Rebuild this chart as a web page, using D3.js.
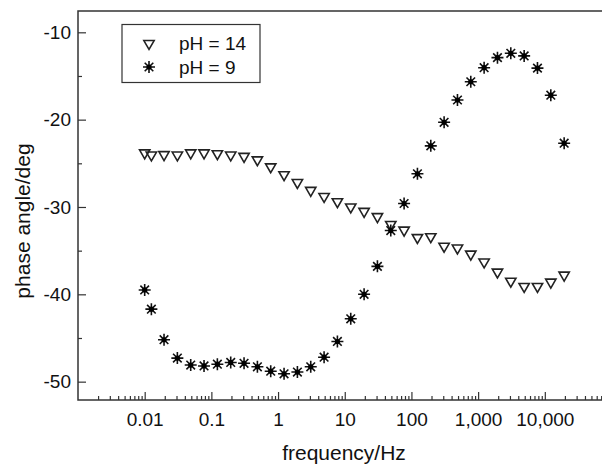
<!DOCTYPE html>
<html lang="en">
<head>
    <meta charset="UTF-8">
    <script type="text/javascript" src="https://d3js.org/d3.v7.min.js"></script>
    <title>Phase angle</title>
    <style>
        body { margin: 0; background: #fff; }
        svg { display: block; overflow: hidden; }
        text { font-family: "Liberation Sans", Arial, sans-serif; fill: #111; }
    </style>
</head>
<body>
    <svg id="plot"></svg>
    <script>
        const width = 602;
        const height = 466;

        // frequencies (Hz)
        const freq = [0.01, 0.0126, 0.0195, 0.0309, 0.049, 0.0776, 0.123, 0.195, 0.309, 0.49, 0.776,
            1.23, 1.95, 3.09, 4.9, 7.76, 12.3, 19.5, 30.9, 49, 77.6, 123, 195, 309, 490, 776,
            1230, 1950, 3090, 4900, 7760, 12300, 19500];
        const ph14 = [-23.8, -24.05, -24.0, -24.05, -23.8, -23.8, -23.9, -24.05, -24.2, -24.6, -25.4,
            -26.3, -27.2, -28.1, -28.8, -29.4, -30.0, -30.5, -31.1, -32.0, -32.65, -33.5, -33.4, -34.5,
            -34.7, -35.4, -36.3, -37.45, -38.5, -39.1, -39.1, -38.6, -37.8];
        const ph9 = [-39.5, -41.7, -45.2, -47.3, -48.1, -48.2, -48.0, -47.8, -47.9, -48.3, -48.8,
            -49.1, -48.9, -48.3, -47.2, -45.4, -42.8, -40.0, -36.8, -32.7, -29.6, -26.2, -23.0, -20.3,
            -17.75, -15.66, -14.05, -12.9, -12.4, -12.7, -14.1, -17.2, -22.7];
        const xTicks = [0.01, 0.1, 1, 10, 100, 1000, 10000];
        const yTicks = [-50, -40, -30, -20, -10];
        const legendLabels = ["pH = 14", "pH = 9"];

        const svg = d3.select("#plot").attr("width", width).attr("height", height);

        const x = d3.scaleLog().domain([0.001, 100000]).range([78, 611.5]);
        const y = d3.scaleLinear().domain([-52.1, -7.56]).range([400, 11]);

        // minor ticks
        const minorX = [];
        for (let e = -3; e < 5; e++) for (let m = 2; m <= 9; m++) minorX.push(m * Math.pow(10, e));
        const minorY = [-45, -35, -25, -15];

        // frame
        svg.append("rect")
            .attr("x", x.range()[0]).attr("y", y.range()[1])
            .attr("width", x.range()[1] - x.range()[0]).attr("height", y.range()[0] - y.range()[1])
            .attr("fill", "none").attr("stroke", "#333").attr("stroke-width", 1.5);

        const xAxis = svg.append("g").attr("transform", `translate(0,${y.range()[0]})`)
            .call(d3.axisBottom(x).tickValues(xTicks).tickFormat(d3.format(",")).tickSizeInner(-8).tickSizeOuter(0).tickPadding(13));
        const xMinor = svg.append("g").attr("transform", `translate(0,${y.range()[0]})`)
            .call(d3.axisBottom(x).tickValues(minorX).tickFormat("").tickSizeInner(-4).tickSizeOuter(0));
        const yAxis = svg.append("g").attr("transform", `translate(${x.range()[0]},0)`)
            .call(d3.axisLeft(y).tickValues(yTicks).tickFormat(d => String(d)).tickSizeInner(-8).tickSizeOuter(0).tickPadding(7));
        const yMinor = svg.append("g").attr("transform", `translate(${x.range()[0]},0)`)
            .call(d3.axisLeft(y).tickValues(minorY).tickFormat("").tickSizeInner(-4).tickSizeOuter(0));

        [xAxis, xMinor, yAxis, yMinor].forEach(g => {
            g.select(".domain").remove();
            g.selectAll("line").attr("stroke", "#333").attr("stroke-width", 1.2);
            g.selectAll("text").attr("font-size", 19).attr("font-family", "Liberation Sans, Arial, sans-serif").attr("fill", "#111");
        });

        // axis titles
        svg.append("text").attr("x", 344).attr("y", 460).attr("text-anchor", "middle")
            .attr("font-size", 21).text("frequency/Hz");
        svg.append("text").attr("transform", "translate(30,221) rotate(-90)").attr("text-anchor", "middle")
            .attr("font-size", 21).text("phase angle/deg");

        // markers
        const tri = d3.symbol(d3.symbolTriangle, 46);
        const star = "M-6,0H6M0,-6V6M-4.3,-4.3L4.3,4.3M-4.3,4.3L4.3,-4.3";

        function drawTri(g) {
            g.append("path").attr("d", tri()).attr("transform", "rotate(180)")
                .attr("fill", "none").attr("stroke", "#222").attr("stroke-width", 1.6);
        }
        function drawStar(g) {
            g.append("path").attr("d", star).attr("fill", "none").attr("stroke", "#111").attr("stroke-width", 1.6);
            g.append("circle").attr("r", 2.6).attr("fill", "#000");
        }

        svg.append("g").selectAll("g").data(freq.map((f, i) => [f, ph14[i]])).join("g")
            .attr("transform", d => `translate(${x(d[0])},${y(d[1])})`)
            .each(function() { drawTri(d3.select(this)); });
        svg.append("g").selectAll("g").data(freq.map((f, i) => [f, ph9[i]])).join("g")
            .attr("transform", d => `translate(${x(d[0])},${y(d[1])})`)
            .each(function() { drawStar(d3.select(this)); });

        // legend
        const legend = svg.append("g");
        legend.append("rect").attr("x", 122).attr("y", 24.5).attr("width", 138).attr("height", 58)
            .attr("fill", "#fff").attr("stroke", "#333").attr("stroke-width", 1.2);
        legendLabels.forEach((lab, i) => {
            const row = legend.append("g").attr("transform", `translate(149,${43.5 + i * 23.5})`);
            if (i === 0) drawTri(row); else drawStar(row);
            legend.append("text").attr("x", 179).attr("y", 50 + i * 23.5)
                .attr("font-size", 19).text(lab);
        });
    </script>
</body>
</html>
